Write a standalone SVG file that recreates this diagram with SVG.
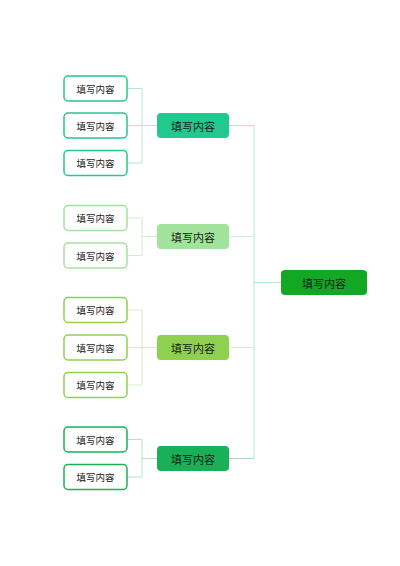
<svg xmlns="http://www.w3.org/2000/svg" width="400" height="566" viewBox="0 0 400 566">
<style>
.leaf{fill:#fff;stroke-width:1.5}
.lt{font-family:"Noto Sans CJK SC","Noto Sans",sans-serif;font-size:9.5px;fill:#222;text-anchor:middle;dominant-baseline:central}
.bt{font-family:"Noto Sans CJK SC","Noto Sans",sans-serif;font-size:11px;fill:#1a1a1a;text-anchor:middle;dominant-baseline:central}
.ln{fill:none;stroke-width:1}
</style>
<rect width="400" height="566" fill="#fff"/>
<g id="connectors">
<path class="ln" stroke="#b0e8d4" d="M229,125.5H254V458.5"/>
<path class="ln" stroke="#b0e8d4" d="M254,282.5H281"/>
<path class="ln" stroke="#cdeedd" d="M229,236.5H254"/>
<path class="ln" stroke="#d6ecc6" d="M229,347.5H254"/>
<path class="ln" stroke="#a6dcbc" d="M229,458.5H254"/>
<path class="ln" stroke="#b0e8d4" d="M127,88.5H142V163H127M127,125.5H157"/>
<path class="ln" stroke="#cdeecb" d="M127,218H142V255.5H127M142,236.5H157"/>
<path class="ln" stroke="#d9edc8" d="M127,310H142V385H127M127,347.5H157"/>
<path class="ln" stroke="#b6e2c4" d="M127,439.5H142V477H127M142,458.5H157"/>
</g>
<g id="root"><rect x="281" y="270" width="86" height="25" rx="4" fill="#12a824"/><text class="bt" x="324" y="282.5">填写内容</text></g>
<g id="b1"><rect x="157" y="113" width="72" height="25" rx="4" fill="#22c98e"/><text class="bt" x="193" y="125.5">填写内容</text></g>
<g id="b2"><rect x="157" y="224" width="72" height="25" rx="4" fill="#a2e39c"/><text class="bt" x="193" y="236.5">填写内容</text></g>
<g id="b3"><rect x="157" y="335" width="72" height="25" rx="4" fill="#8ed150"/><text class="bt" x="193" y="347.5">填写内容</text></g>
<g id="b4"><rect x="157" y="446" width="72" height="25" rx="4" fill="#18b157"/><text class="bt" x="193" y="458.5">填写内容</text></g>
<g id="l1"><rect class="leaf" x="64" y="76" width="63" height="25" rx="4" stroke="#22c98e"/><text class="lt" x="95.5" y="88.5">填写内容</text></g>
<g id="l2"><rect class="leaf" x="64" y="113" width="63" height="25" rx="4" stroke="#22c98e"/><text class="lt" x="95.5" y="125.5">填写内容</text></g>
<g id="l3"><rect class="leaf" x="64" y="150.5" width="63" height="25" rx="4" stroke="#22c98e"/><text class="lt" x="95.5" y="163">填写内容</text></g>
<g id="l4"><rect class="leaf" x="64" y="205.5" width="63" height="25" rx="4" stroke="#a2e39c"/><text class="lt" x="95.5" y="218">填写内容</text></g>
<g id="l5"><rect class="leaf" x="64" y="243" width="63" height="25" rx="4" stroke="#a2e39c"/><text class="lt" x="95.5" y="255.5">填写内容</text></g>
<g id="l6"><rect class="leaf" x="64" y="297.5" width="63" height="25" rx="4" stroke="#8ed150"/><text class="lt" x="95.5" y="310">填写内容</text></g>
<g id="l7"><rect class="leaf" x="64" y="335" width="63" height="25" rx="4" stroke="#8ed150"/><text class="lt" x="95.5" y="347.5">填写内容</text></g>
<g id="l8"><rect class="leaf" x="64" y="372.5" width="63" height="25" rx="4" stroke="#8ed150"/><text class="lt" x="95.5" y="385">填写内容</text></g>
<g id="l9"><rect class="leaf" x="64" y="427" width="63" height="25" rx="4" stroke="#18b157"/><text class="lt" x="95.5" y="439.5">填写内容</text></g>
<g id="l10"><rect class="leaf" x="64" y="464.5" width="63" height="25" rx="4" stroke="#18b157"/><text class="lt" x="95.5" y="477">填写内容</text></g>
</svg>
